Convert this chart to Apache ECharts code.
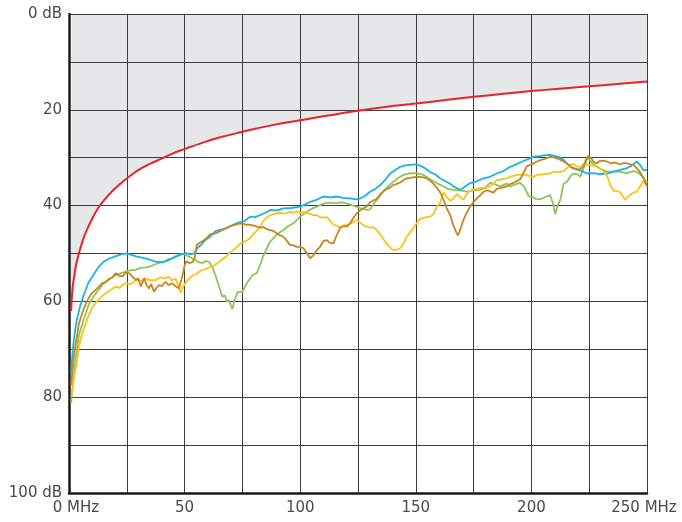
<!DOCTYPE html>
<html>
<head>
<meta charset="utf-8">
<script src="https://cdn.jsdelivr.net/npm/echarts@6/dist/echarts.min.js"></script>
<style>
html,body{margin:0;padding:0;background:#fff;}
#chart{width:682px;height:522px;}
</style>
</head>
<body>
<div id="chart"></div>
<script>
// x tick labels (MHz) and y tick labels (dB)
const xTicks = [0, 50, 100, 150, 200, 250];
const yTicks = [0, 20, 40, 60, 80, 100];

// limit line [MHz, dB]
const limit = [[0.9,62],[1.2,59.5],[1.6,57],[2.2,55],[3,52.5],[4,50.5],[5,48.8],[6.5,46.5],[8,44.8],[10,42.8],[12.5,40.6],[15,39],[17.5,37.6],[20,36.4],[23.5,34.9],[27,33.6],[31,32.3],[35,31.3],[40,30.2],[45,29.1],[50,28.2],[57,27],[65,25.8],[75,24.6],[87,23.3],[100,22.2],[112,21.2],[125,20.2],[137,19.4],[150,18.7],[162,18],[175,17.3],[187,16.7],[200,16.1],[212,15.6],[225,15.1],[237,14.6],[250,14.1]];

const cyan = [[0.9,75],[1.5,71],[2.2,67.5],[3.3,64],[4.8,61],[6.5,58.5],[8.5,56],[10.5,54.5],[12.5,53],[15,51.7],[17.7,51],[20,50.6],[22.5,50.2],[25,50],[27,50.3],[29,50.6],[31,50.8],[33,51],[35.5,51.4],[37.5,51.7],[40,51.8],[42,51.6],[44,51.2],[46,50.7],[48,50.3],[50.5,49.9],[52.5,50.2],[54,50],[55.5,48.9],[57.5,48],[59,47.2],[61,46.5],[63.5,45.3],[66,45],[68.5,44.6],[71,44],[73.5,43.5],[76,43.2],[78.3,42.3],[80.5,42.4],[82.6,42],[85,41.5],[87,40.9],[90,41],[92.7,40.6],[96,40.5],[100,40.2],[102,39.8],[104.3,39.2],[107,38.8],[110,38.1],[113,38.3],[115.8,38.1],[118.5,38.4],[121.6,38.5],[124,38.7],[126,38.5],[128,38],[130.2,37.1],[132.5,36.5],[134.6,35.7],[137,34.5],[138.9,33.3],[141,32.6],[143.2,31.9],[145.5,31.6],[147.6,31.5],[150,31.4],[152,31.7],[154,32.2],[156.2,33],[158.5,33.5],[160.5,34.3],[162.5,34.8],[165,35.5],[167,36.2],[169.2,36.7],[171,36.1],[173.5,35.3],[176,35],[179.3,34.3],[182,34],[185,33.3],[188,32.8],[190.8,31.9],[193,31.5],[195.1,31],[198,30.4],[200.9,29.8],[203,29.7],[205.5,29.5],[208,29.4],[210,29.6],[212,29.9],[214,30.5],[216.8,31.9],[219,32.3],[222,32.8],[224,33.3],[227,33.2],[229,33.4],[231.2,33.4],[233.5,33.2],[235.5,32.9],[238,32.6],[241.3,32.2],[243.5,31.6],[245.6,30.8],[247,31.5],[248.5,32.6],[250,32.6]];

const green = [[0.9,81.2],[1.5,78.5],[2.2,75],[3.3,70.5],[4.3,67],[6.2,64],[8.7,60.5],[10.5,59],[12.5,57.8],[14.4,56.6],[16.3,55.8],[18,55.2],[20.2,54.5],[22,54.2],[24.5,53.8],[26.5,53.5],[28.9,53.4],[31,53],[33,52.9],[34.6,52.8],[37,52.3],[39.4,51.9],[41,51.8],[42.8,51.2],[44.7,51],[46,50.6],[47.6,50.3],[49,50],[50.5,50.3],[52.5,50.8],[54.8,51.4],[56,51.8],[57.7,52],[59,51.6],[60.6,51.7],[62,52.8],[63.5,54.8],[65,57],[66.3,59],[67.5,58.8],[68.3,60],[69.2,59.7],[70,60.8],[70.7,61.6],[71.5,59.8],[72.1,59.4],[73,58],[73.6,57.6],[75,58],[76.5,56.5],[77.9,55.5],[79.5,54.5],[81.2,54.1],[82.6,52.5],[84,50.5],[85.5,49],[87,47.5],[90,46],[92.7,45.1],[95,44.2],[97.1,43.7],[100,42.3],[102,41.6],[104,40.9],[107.2,40.2],[110,39.6],[112.9,39.4],[116,39.5],[118,39.3],[120.2,39.6],[123,40],[125.9,40.5],[128.8,40.9],[130.2,40.8],[132,39.5],[134,38.3],[136,37],[138,36],[140.3,35],[142.5,34.2],[144.7,33.6],[147,33.3],[149,33.2],[151,33.3],[153.3,33.6],[156.2,34.5],[159.1,35.3],[162,36],[164,36.5],[166.3,36.7],[169.2,36.8],[172.1,37.1],[175,36.8],[177.8,36.7],[180,36.3],[182.2,35.2],[184.5,35.6],[186.5,36],[189.4,35.4],[190.8,36],[193,35.6],[195.1,35.2],[197,36.2],[198.8,38],[200.5,38.2],[202,38.6],[203.8,38.7],[206,38.2],[208.1,37.8],[209.3,39.5],[210.3,41.8],[211.3,40],[212.5,38.8],[213.9,35.5],[215.4,35],[217,33.8],[218.2,33.3],[220,33.5],[221.1,34],[222.5,32.2],[224.3,29.9],[226,31],[228.3,31.9],[230.5,32.5],[232.7,32.9],[235.5,32.9],[238.4,32.9],[241,33.2],[244.2,32.8],[246.5,33.2],[248.5,34.2],[250,35.3]];

const brown = [[0.9,77.5],[1.5,74.5],[2.2,71],[3.2,68],[4.3,64.6],[6,62],[7.7,60],[9.5,58.5],[12,57.4],[14.4,56.2],[16,55.9],[17.3,55.3],[18.8,55],[20.2,54.1],[21.5,54.6],[23.1,54.8],[24.5,54],[26,54.1],[27.3,54.8],[28.9,55.5],[30,55.2],[31,56.9],[32,55.8],[32.5,55.2],[33.5,56.5],[34.6,57.3],[35.5,56.4],[36.8,58],[37.8,57.2],[38.9,56.6],[40.2,56.8],[41.8,55.9],[43,56.6],[44.7,56.2],[46,56.8],[47.6,57.3],[48.3,56],[49,54.8],[50,52.5],[50.9,51.6],[52,52],[53.4,51.8],[54.3,51],[55.3,48.2],[56.3,47.8],[57.5,47.5],[59.1,47],[61,46],[63.5,45.8],[66.3,45.1],[68.2,44.7],[70.5,44.2],[72.5,43.9],[74,43.7],[75.4,43.8],[77,44],[78.3,44],[80,44.2],[82.6,44.6],[84.1,44.5],[86,45],[88.4,45.3],[90.5,46],[92.7,46.5],[94,47.2],[95.6,48.2],[97,48.3],[98.5,48.6],[100,48.6],[101.4,48.9],[103,50],[104.3,51],[105.5,50.5],[107.2,49.3],[108.6,48.6],[110,47.4],[111.5,47.2],[113,47.8],[114.4,47.9],[115.5,46.5],[117.3,44.6],[119,44.3],[120.2,44.4],[121.6,43.7],[123,42.6],[124.5,41.6],[125.9,41],[127.5,40.5],[128.8,40.2],[130.2,39.3],[131.5,39],[133.1,38.6],[134.6,37.6],[136.5,36.8],[138.9,36.2],[140.3,35.7],[141.5,35.5],[143.2,35.2],[145,34.6],[146.1,34.3],[147.6,34.2],[150,34],[151.9,34],[153.3,34.1],[155,34.4],[156.2,34.8],[157.6,35.4],[159,36.2],[160.5,37.2],[162,38.8],[163.4,40.6],[164.9,42],[166.3,44.2],[167.5,45.6],[168.2,46.2],[169,45.3],[170.6,43],[172,41.5],[173.5,40.2],[175,39.2],[176.4,38.5],[178,37.8],[179.3,37.1],[180.7,36.8],[182,37],[183.6,37.3],[185,36.5],[187,36.3],[189.4,36],[190.8,35.5],[192.5,35.2],[195.1,34.5],[196.5,33.3],[198,31.8],[199.5,31.5],[201,31.2],[202.4,30.8],[204.5,30.4],[206,30.2],[208.1,29.8],[210,30],[212,30.3],[213.9,30.8],[216,31.4],[217.8,32.2],[219.7,32.5],[221,32.4],[222.5,31.9],[223.5,30.5],[224.7,29.6],[226,30.2],[227.2,31],[228.3,31.2],[229.5,30.7],[231.2,30.6],[232.7,30.8],[234.5,31.2],[236,31],[238.4,31.4],[240,31.1],[241.3,31.2],[243,31.4],[244.2,31.5],[245.6,32.2],[247,33],[248.5,34.3],[250,36]];

const yellow = [[1.1,79.9],[1.8,77],[2.5,75],[3.3,72.9],[4.3,69.5],[5.2,67.5],[6.2,66],[8,63.5],[10.1,61.2],[12.5,59.8],[14,59],[15.9,58.3],[18,57.6],[20.2,56.9],[22,57.2],[23.2,56.5],[24.5,56.2],[26.5,56.4],[27.8,56],[28.9,55.5],[31,55.8],[33.2,55.2],[35,55.6],[37.5,55.5],[39.4,55],[41.8,55.2],[43,54.8],[44.5,55.6],[46.2,55.3],[47.2,56.5],[48.3,58.2],[49.3,57],[50.5,56],[52,55.3],[53.4,54.6],[55,54.3],[56.3,53.8],[57.7,53.4],[59.5,53.2],[61,52.8],[62.5,52.6],[64.3,52],[66.3,51.2],[68.2,50.6],[69.2,50],[70.5,49.5],[72.1,48.9],[73.5,48.2],[75,47.7],[76.5,47.4],[78.3,46.8],[80,45.8],[82.6,44.6],[84.1,43.2],[85.5,42.5],[87,42],[88.5,41.8],[89.9,41.6],[91.3,41.5],[93,41.7],[95.6,41.3],[97,41.5],[98.5,41.2],[100,41.5],[101.4,41.3],[103.5,41.6],[105.7,42],[107.2,42],[109,42.5],[111.5,42.4],[113,43.2],[114.4,44],[115.8,44.2],[117.3,44.7],[118.5,44.2],[120.2,44],[121.6,43.8],[123,43.4],[124.5,43],[125.9,43.5],[127.5,44.2],[128.8,44.4],[130.2,44.6],[131.7,44.5],[133.1,45.1],[134.6,46],[136,47],[137.5,48],[139,48.8],[140.3,49.3],[141.8,49.2],[143.2,48.9],[144.7,47.9],[146.1,46.5],[147.6,45.5],[149,44.7],[150.5,43.6],[151.9,42.7],[153.5,42.5],[156.2,42.3],[157.6,41.8],[159.1,40.2],[160.5,39.5],[162,37.2],[163.4,38.2],[164.9,39],[166.3,38.5],[167.8,37.6],[169.2,38.2],[170.6,38.8],[171.8,37.8],[172.8,37.1],[174.5,36.7],[176.4,36.5],[178.5,36.3],[180.7,36.2],[182.2,36],[183.6,35.4],[185,34.7],[186.5,34.6],[188.5,34.4],[190.8,34],[193.7,33.6],[196.6,33.5],[198.5,33.7],[200.9,34],[202.4,33.6],[205,33.5],[208.1,33.3],[209.6,32.9],[211.5,33],[213.9,32.8],[216.8,31.5],[218.2,31.3],[219.5,31.8],[221.1,31.9],[222.5,31.3],[224,31.4],[226,31.6],[228.3,31.8],[230.5,32.5],[232.7,33.8],[234,35.5],[235.5,36.9],[237,37],[238.4,37.2],[239.9,38.3],[240.6,38.8],[241.5,38.3],[242.7,37.7],[244.2,37.3],[245.6,37.1],[247,36],[248.5,34.8],[249.2,35.5],[250,35]];

const chart = echarts.init(document.getElementById('chart'), null, {renderer: 'canvas'});
const font = 'DejaVu Sans, Liberation Sans, sans-serif';
const labelColor = '#4a4a4a';
const lineSeries = (data, color, z) => ({
  type: 'line', data: data, showSymbol: false, symbol: 'none', silent: true,
  lineStyle: {color: color, width: 1.8}, z: z, animation: false
});

chart.setOption({
  animation: false,
  grid: {left: 69, right: 35, top: 14, bottom: 29, containLabel: false},
  xAxis: {
    type: 'value', min: 0, max: 250, interval: 25, z: 1,
    axisLine: {show: true, onZero: false, lineStyle: {color: '#1a1a1a', width: 2.5}},
    axisTick: {show: false},
    splitLine: {show: true, lineStyle: {color: '#3d3d3d', width: 1}},
    axisLabel: {
      margin: 8, color: labelColor, fontSize: 15, fontFamily: font,
      formatter: function (v) {
        if (xTicks.indexOf(v) < 0) return '';
        if (v === 0) return '{a|0 MHz}';
        if (v === 250) return '{b|250 MHz}';
        return String(v);
      },
      rich: {
        a: {padding: [0, 0, 0, 14], color: labelColor, fontSize: 15, fontFamily: font},
        b: {padding: [0, 6, 0, 0], color: labelColor, fontSize: 15, fontFamily: font}
      }
    }
  },
  yAxis: {
    type: 'value', min: 0, max: 100, interval: 10, inverse: true, z: 1,
    axisLine: {show: true, lineStyle: {color: '#1a1a1a', width: 2.5}},
    axisTick: {show: false},
    splitLine: {show: true, lineStyle: {color: '#3d3d3d', width: 1}},
    axisLabel: {
      margin: 7, color: labelColor, fontSize: 15, fontFamily: font,
      formatter: function (v) {
        if (yTicks.indexOf(v) < 0) return '';
        if (v === 0 || v === 100) return v + ' dB';
        return String(v);
      }
    }
  },
  series: [
    {
      type: 'line', data: limit, smooth: true, showSymbol: false, symbol: 'none', silent: true,
      lineStyle: {width: 0, opacity: 0}, areaStyle: {color: '#e6e7e9', opacity: 1, origin: 'start'}, z: 0
    },
    lineSeries(green, '#8cc55a', 3),
    lineSeries(cyan, '#1cb3e6', 4),
    lineSeries(yellow, '#fdc21a', 5),
    lineSeries(brown, '#c8861e', 6),
    Object.assign(lineSeries(limit, '#ec2227', 7), {smooth: true, lineStyle: {color: '#ec2227', width: 2}})
  ]
});
</script>
</body>
</html>
